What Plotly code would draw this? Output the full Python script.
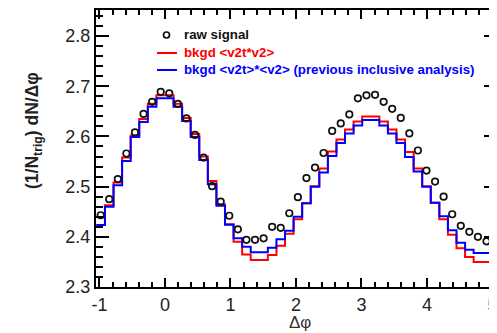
import numpy as np
import plotly.graph_objects as go

# ---- data (histogram bins of width pi/24, first visible bin starts at -pi/2 + 4*pi/24) ----
BIN_WIDTH = np.pi / 24
FIRST_EDGE = -np.pi / 2 + 4 * BIN_WIDTH

raw_signal = [2.443, 2.475, 2.515, 2.566, 2.608, 2.645, 2.669, 2.689, 2.686, 2.665,
              2.636, 2.603, 2.558, 2.501, 2.470, 2.442, 2.415, 2.394, 2.394, 2.397,
              2.420, 2.418, 2.447, 2.479, 2.517, 2.538, 2.567, 2.611, 2.626, 2.644,
              2.676, 2.682, 2.683, 2.669, 2.655, 2.637, 2.606, 2.572, 2.532, 2.510,
              2.480, 2.445, 2.422, 2.410, 2.400, 2.391, 2.399]

bkgd_v2t_v2 = [2.4235, 2.463, 2.508, 2.558, 2.602, 2.635, 2.665, 2.682, 2.682, 2.665,
               2.637, 2.605, 2.560, 2.511, 2.465, 2.425, 2.390, 2.365, 2.354, 2.354,
               2.364, 2.382, 2.406, 2.435, 2.467, 2.501, 2.536, 2.570, 2.594, 2.614,
               2.630, 2.640, 2.640, 2.630, 2.614, 2.594, 2.569, 2.536, 2.501, 2.468,
               2.435, 2.404, 2.377, 2.360, 2.350, 2.350, 2.367]

bkgd_prev = [2.4235, 2.460, 2.503, 2.551, 2.599, 2.629, 2.659, 2.676, 2.676, 2.659,
             2.631, 2.599, 2.553, 2.505, 2.462, 2.424, 2.397, 2.380, 2.369, 2.369,
             2.378, 2.395, 2.412, 2.440, 2.467, 2.500, 2.528, 2.561, 2.587, 2.606,
             2.622, 2.633, 2.633, 2.622, 2.606, 2.587, 2.559, 2.530, 2.500, 2.468,
             2.441, 2.413, 2.388, 2.374, 2.368, 2.368, 2.387]

x_tick_vals = [-1, 0, 1, 2, 3, 4, 5]
y_tick_vals = [2.3, 2.4, 2.5, 2.6, 2.7, 2.8]

n = len(raw_signal)
edges = FIRST_EDGE + BIN_WIDTH * np.arange(n + 1)
centers = FIRST_EDGE + BIN_WIDTH * (np.arange(n) + 0.5)


def step_y(vals):
    return list(vals) + [vals[-1]]


# page body has an 8px margin: the figure is drawn offset by (8, 8) in the window
OFF = 8
W, H = 497 - OFF, 333 - OFF
ML, MR, MT, MB = 96 - OFF, 0, 10 - OFF, 333 - 287
FONT = "Liberation Sans, Arial, sans-serif"

fig = go.Figure()
fig.add_trace(go.Scatter(x=edges, y=step_y(bkgd_v2t_v2), mode="lines", line_shape="hv",
                         line=dict(color="#ff0000", width=2), showlegend=False))
fig.add_trace(go.Scatter(x=edges, y=step_y(bkgd_prev), mode="lines", line_shape="hv",
                         line=dict(color="#0000ff", width=2), showlegend=False))
fig.add_trace(go.Scatter(x=centers, y=raw_signal, mode="markers",
                         marker=dict(symbol="circle-open", size=6.5, color="#111111",
                                     line=dict(width=1.7, color="#111111")),
                         showlegend=False))

fig.update_xaxes(range=[-1.053, 5.069], tickvals=x_tick_vals, ticktext=[str(v) for v in x_tick_vals],
                 ticks="inside", ticklen=9, tickwidth=2, tickcolor="black",
                 minor=dict(dtick=0.2, tick0=0, ticks="inside", ticklen=5, tickwidth=2, tickcolor="black"),
                 showline=True, linecolor="black", linewidth=2, mirror="allticks",
                 showgrid=False, zeroline=False, ticklabeloverflow="allow",
                 tickfont=dict(family=FONT, size=18, color="#222"))
fig.update_yaxes(range=[2.3, 2.852], tickvals=y_tick_vals, ticktext=[f"{v:.1f}" for v in y_tick_vals],
                 ticks="inside", ticklen=13, tickwidth=2, tickcolor="black",
                 minor=dict(dtick=0.02, tick0=2.3, ticks="inside", ticklen=7, tickwidth=2, tickcolor="black"),
                 showline=True, linecolor="black", linewidth=2, mirror="allticks",
                 showgrid=False, zeroline=False,
                 tickfont=dict(family=FONT, size=18, color="#222"))

PW = W - ML - MR
PH = H - MT - MB


def px(x):
    """window pixel x -> paper coordinate"""
    return (x - OFF - ML) / PW


def py(y):
    """window pixel y -> paper coordinate"""
    return (H - MB - (y - OFF)) / PH


annotations = [
    dict(text="Δφ", x=px(300), y=py(322), xref="paper", yref="paper", showarrow=False,
         font=dict(family=FONT, size=17, color="#333"), xanchor="center", yanchor="middle"),
    dict(text="<b>(1/N<sub>trig</sub>) dN/Δφ</b>", x=px(33), y=py(130), xref="paper", yref="paper",
         showarrow=False, textangle=-90, font=dict(family=FONT, size=17.5, color="#222"),
         xanchor="center", yanchor="middle"),
    dict(text="<b>raw signal</b>", x=px(182), y=py(35), xref="paper", yref="paper", showarrow=False,
         font=dict(family=FONT, size=13.3, color="#111"), xanchor="left", yanchor="middle"),
    dict(text="<b>bkgd &lt;v2t*v2&gt;</b>", x=px(182), y=py(53), xref="paper", yref="paper", showarrow=False,
         font=dict(family=FONT, size=13.3, color="#ff0000"), xanchor="left", yanchor="middle"),
    dict(text="<b>bkgd &lt;v2t&gt;*&lt;v2&gt; (previous inclusive analysis)</b>", x=px(182), y=py(70),
         xref="paper", yref="paper", showarrow=False,
         font=dict(family=FONT, size=13.3, color="#0000ff"), xanchor="left", yanchor="middle"),
]

shapes = [
    dict(type="circle", xref="paper", yref="paper", x0=px(163.5), x1=px(169.5), y0=py(38), y1=py(32),
         line=dict(color="#111", width=1.7)),
    dict(type="line", xref="paper", yref="paper", x0=px(157), x1=px(177), y0=py(53), y1=py(53),
         line=dict(color="#ff0000", width=2)),
    dict(type="line", xref="paper", yref="paper", x0=px(157), x1=px(177), y0=py(70), y1=py(70),
         line=dict(color="#0000ff", width=2)),
]

fig.update_layout(width=W, height=H, margin=dict(l=ML, r=MR, t=MT, b=MB, autoexpand=False),
                  paper_bgcolor="white", plot_bgcolor="white",
                  annotations=annotations, shapes=shapes, showlegend=False)

fig.write_html("out.html")
